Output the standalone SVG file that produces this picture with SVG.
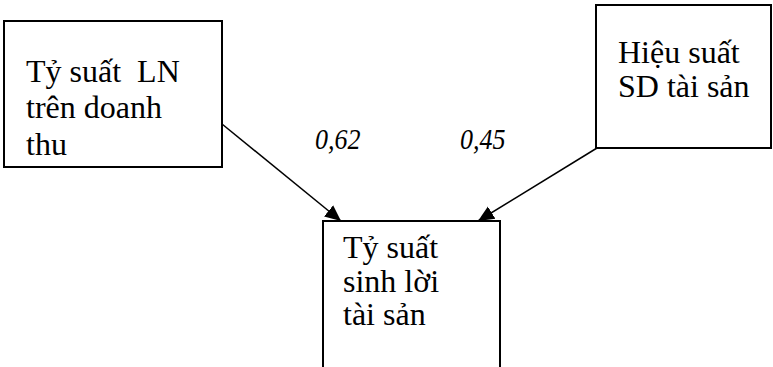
<svg xmlns="http://www.w3.org/2000/svg" width="773" height="367" viewBox="0 0 773 367">
<style>
.box{fill:#fff;stroke:#000;stroke-width:2}
.t{font-size:32px;fill:#000;white-space:pre}
.lbl{font-size:26px;font-style:italic;fill:#000}
.con{stroke:#000;stroke-width:1.5;fill:none}
</style>
<defs>
<marker id="ah" viewBox="0 0 10 10" refX="10" refY="5" markerWidth="16" markerHeight="16" markerUnits="userSpaceOnUse" orient="auto">
<path d="M0,0.5 L10,5 L0,9.5 z" fill="#000"/>
</marker>
</defs>
<g font-family="'Liberation Serif', 'Times New Roman', 'DejaVu Serif', serif">
<g id="connectors">
<line class="con" x1="222" y1="124" x2="341" y2="221" marker-end="url(#ah)"/>
<line class="con" x1="597" y1="148" x2="478" y2="221" marker-end="url(#ah)"/>
<text class="lbl" transform="translate(315,149) scale(1,1.12)">0,62</text>
<text class="lbl" transform="translate(460,149) scale(1,1.12)">0,45</text>
</g>
<g id="node-ln">
<rect class="box" x="4" y="21" width="218" height="146"/>
<text class="t" xml:space="preserve" x="26" y="82">Tỷ suất  LN</text>
<text class="t" x="26" y="118">trên doanh</text>
<text class="t" x="26" y="155">thu</text>
</g>
<g id="node-hs">
<rect class="box" x="596" y="5" width="175" height="143"/>
<text class="t" x="618" y="63">Hiệu suất</text>
<text class="t" x="618" y="97">SD tài sản</text>
</g>
<g id="node-ts">
<rect class="box" x="323" y="221" width="177" height="160"/>
<text class="t" x="343" y="258">Tỷ suất</text>
<text class="t" x="343" y="292">sinh lời</text>
<text class="t" x="343" y="325">tài sản</text>
</g>
</g>
</svg>
